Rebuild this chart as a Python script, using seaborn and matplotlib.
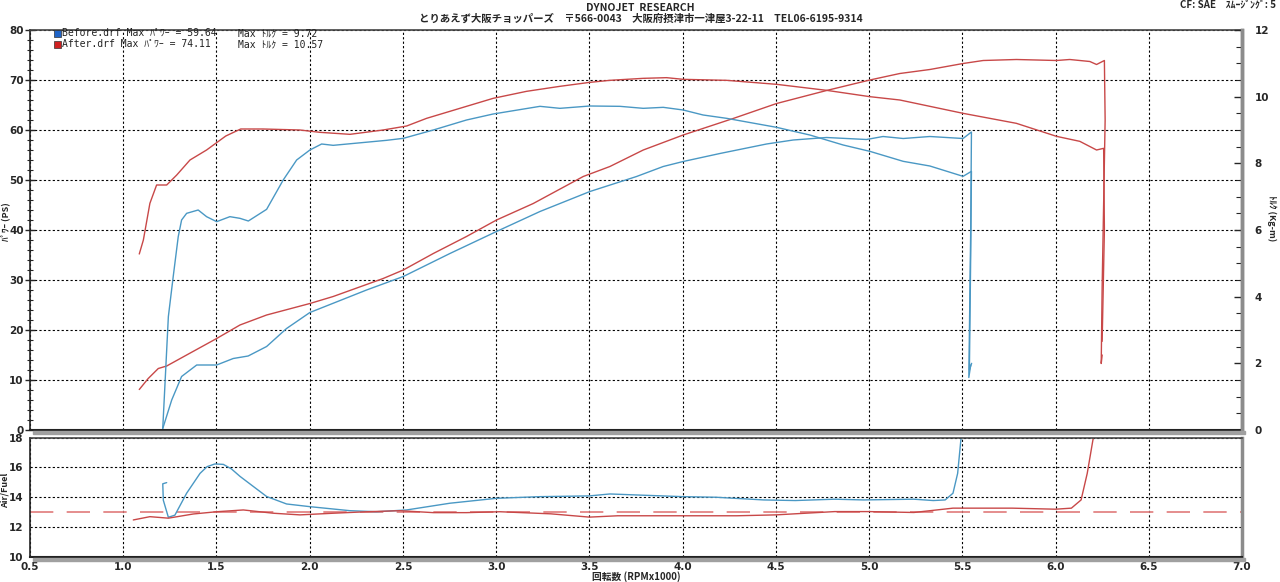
import numpy as np
import pandas as pd
import matplotlib
matplotlib.use("Agg")
import matplotlib.pyplot as plt
import seaborn as sns
from matplotlib.ticker import MultipleLocator, FormatStrFormatter
from matplotlib.patches import Rectangle

# ---------------- data ----------------
before_pwr_rpm = [1.212, 1.260, 1.313, 1.394, 1.501, 1.590, 1.670, 1.769, 1.876, 2.001, 2.305, 2.502,
                  2.752, 3.002, 3.235, 3.503, 3.753, 3.896, 4.003, 4.200, 4.450, 4.593, 4.772, 4.986,
                  5.075, 5.183, 5.326, 5.504, 5.549, 5.545, 5.535, 5.545]
before_pwr = [0.3, 6.0, 10.7, 13.0, 13.0, 14.3, 14.8, 16.7, 20.3, 23.5, 28.0, 30.7,
              35.3, 39.7, 43.7, 47.7, 50.7, 52.7, 53.7, 55.3, 57.2, 58.0, 58.5, 58.1,
              58.7, 58.3, 58.7, 58.3, 59.6, 40.0, 10.5, 13.0]

before_trq_rpm = [1.212, 1.242, 1.268, 1.295, 1.313, 1.340, 1.402, 1.447, 1.501, 1.572, 1.626, 1.671,
                  1.769, 1.858, 1.930, 2.001, 2.064, 2.126, 2.412, 2.502, 2.663, 2.841, 2.984, 3.235,
                  3.342, 3.503, 3.664, 3.789, 3.896, 4.003, 4.110, 4.236, 4.504, 4.682, 4.861, 5.004,
                  5.183, 5.326, 5.504, 5.549, 5.545, 5.538, 5.550]
before_trq = [0.05, 3.40, 4.60, 5.80, 6.30, 6.50, 6.60, 6.40, 6.25, 6.40, 6.35, 6.27,
              6.62, 7.50, 8.10, 8.40, 8.58, 8.54, 8.69, 8.75, 9.00, 9.30, 9.48, 9.71,
              9.65, 9.72, 9.71, 9.65, 9.68, 9.60, 9.45, 9.35, 9.08, 8.85, 8.55, 8.36,
              8.06, 7.92, 7.61, 7.76, 5.25, 1.80, 2.00]

after_pwr_rpm = [1.086, 1.134, 1.188, 1.233, 1.340, 1.501, 1.626, 1.769, 2.001, 2.126, 2.394, 2.502,
                 2.663, 2.841, 3.002, 3.199, 3.467, 3.610, 3.789, 4.003, 4.271, 4.504, 4.772, 5.004,
                 5.165, 5.326, 5.504, 5.612, 5.790, 6.005, 6.076, 6.184, 6.220, 6.262, 6.266, 6.250,
                 6.245, 6.250]
after_pwr = [8.1, 10.3, 12.3, 12.8, 15.0, 18.3, 21.0, 23.0, 25.3, 26.7, 30.3, 32.0,
             35.3, 38.7, 42.0, 45.3, 50.7, 52.7, 56.0, 59.0, 62.3, 65.3, 67.9, 70.0,
             71.3, 72.1, 73.3, 73.9, 74.1, 73.9, 74.1, 73.7, 73.1, 73.9, 62.0, 28.7,
             13.3, 15.0]

after_trq_rpm = [1.086, 1.108, 1.143, 1.179, 1.233, 1.287, 1.358, 1.447, 1.550, 1.630, 1.750, 1.948,
                 2.055, 2.216, 2.394, 2.520, 2.627, 2.841, 2.984, 3.163, 3.342, 3.503, 3.610, 3.789,
                 3.914, 4.003, 4.236, 4.504, 4.772, 5.004, 5.165, 5.326, 5.504, 5.790, 6.005, 6.130,
                 6.220, 6.258, 6.262, 6.250]
after_trq = [5.28, 5.70, 6.80, 7.35, 7.35, 7.65, 8.10, 8.40, 8.82, 9.03, 9.03, 9.00,
             8.93, 8.87, 9.00, 9.12, 9.35, 9.71, 9.95, 10.16, 10.31, 10.43, 10.49, 10.55,
             10.57, 10.52, 10.49, 10.37, 10.19, 10.00, 9.90, 9.71, 9.50, 9.20, 8.81, 8.66,
             8.40, 8.45, 6.00, 2.66]

before_afr_rpm = [1.233, 1.212, 1.215, 1.242, 1.277, 1.340, 1.412, 1.450, 1.492, 1.537, 1.580, 1.626,
                  1.700, 1.769, 1.876, 2.001, 2.216, 2.359, 2.520, 2.752, 3.002, 3.235, 3.500, 3.610,
                  3.737, 4.000, 4.180, 4.435, 4.604, 4.816, 4.970, 5.240, 5.344, 5.408, 5.450, 5.475,
                  5.492, 5.510]
before_afr = [14.98, 14.90, 13.80, 12.66, 12.80, 14.27, 15.60, 16.05, 16.23, 16.20, 15.90, 15.40,
              14.70, 14.05, 13.55, 13.37, 13.10, 13.03, 13.15, 13.60, 13.93, 14.04, 14.09, 14.22,
              14.16, 14.04, 14.00, 13.82, 13.78, 13.87, 13.82, 13.87, 13.78, 13.82, 14.27, 15.60,
              17.80, 19.00]

after_afr_rpm = [1.054, 1.143, 1.242, 1.376, 1.501, 1.644, 1.805, 1.948, 2.126, 2.305, 2.484, 2.663,
                 2.841, 3.020, 3.293, 3.500, 3.652, 4.000, 4.290, 4.500, 4.816, 5.000, 5.240, 5.450,
                 5.767, 6.000, 6.085, 6.137, 6.170, 6.200, 6.220]
after_afr = [12.48, 12.70, 12.60, 12.88, 13.03, 13.15, 12.93, 12.82, 12.93, 13.03, 13.10, 12.97,
             12.97, 13.03, 12.89, 12.67, 12.76, 12.76, 12.76, 12.82, 13.04, 13.04, 12.98, 13.27,
             13.27, 13.20, 13.27, 13.82, 15.60, 17.80, 19.00]

target_rpm = [0.5, 7.0]
target_afr = [13.0, 13.0]

x_ticks = ["0.5", "1.0", "1.5", "2.0", "2.5", "3.0", "3.5", "4.0", "4.5", "5.0", "5.5", "6.0", "6.5", "7.0"]

# ---------------- styling ----------------
sns.set_theme(style="white")
plt.rcParams["font.family"] = ["DejaVu Sans", "Noto Sans CJK JP"]
JP = ["Noto Sans CJK JP", "DejaVu Sans"]
MONO = ["DejaVu Sans Mono", "Noto Sans CJK JP"]

BLUE = "#4a98c4"
RED = "#c84848"
W, H = 1280, 582

fig = plt.figure(figsize=(12.8, 5.82), dpi=100)
fig.patch.set_facecolor("white")


def fx(px):
    return px / W


def fy(py):
    return 1 - py / H


# axes geometry (pixels)
L, R = 30, 1242
top_t, top_b = 30, 430
bot_t, bot_b = 437.5, 557

ax = fig.add_axes([fx(L), fy(top_b), fx(R - L), (top_b - top_t) / H])
ax2 = ax.twinx()
axb = fig.add_axes([fx(L), fy(bot_b), fx(R - L), (bot_b - bot_t) / H])

lw = 1.0
kw = dict(sort=False, estimator=None, linewidth=lw, legend=False)

sns.lineplot(x=before_pwr_rpm, y=before_pwr, ax=ax, color=BLUE, **kw)
sns.lineplot(x=after_pwr_rpm, y=after_pwr, ax=ax, color=RED, **kw)
sns.lineplot(x=before_trq_rpm, y=before_trq, ax=ax2, color=BLUE, **kw)
sns.lineplot(x=after_trq_rpm, y=after_trq, ax=ax2, color=RED, **kw)

sns.lineplot(x=target_rpm, y=target_afr, ax=axb, color="#e07a7a", sort=False, estimator=None,
             linewidth=1.2, legend=False)
axb.lines[-1].set_dashes([14, 8])
sns.lineplot(x=before_afr_rpm, y=before_afr, ax=axb, color=BLUE, **kw)
sns.lineplot(x=after_afr_rpm, y=after_afr, ax=axb, color=RED, **kw)

# limits
for a in (ax, ax2, axb):
    a.set_xlim(0.5, 7.0)
ax.set_ylim(0, 80)
ax2.set_ylim(0, 12)
axb.set_ylim(10, 18)

grid_kw = dict(color="black", linestyle=(0, (2, 2)), linewidth=0.8)
for a in (ax, axb):
    a.xaxis.set_major_locator(MultipleLocator(0.5))
    a.xaxis.set_minor_locator(MultipleLocator(0.1))
    a.grid(True, which="major", **grid_kw)
    a.set_axisbelow(True)
    a.set_xlabel("")
    a.set_ylabel("")
ax2.set_ylabel("")
ax2.grid(False)

ax.yaxis.set_major_locator(MultipleLocator(10))
ax.yaxis.set_minor_locator(MultipleLocator(2))
ax2.yaxis.set_major_locator(MultipleLocator(2))
ax2.yaxis.set_minor_locator(MultipleLocator(0.5))
axb.yaxis.set_major_locator(MultipleLocator(2))
axb.yaxis.set_minor_locator(MultipleLocator(0.5))

ax.tick_params(axis="x", which="both", length=0, labelbottom=False)
ax.tick_params(axis="y", which="major", direction="inout", length=7, width=1, labelsize=7.5, pad=1)
ax.tick_params(axis="y", which="minor", direction="inout", length=5, width=0.8)
ax2.tick_params(axis="y", which="major", direction="in", length=6, width=1, labelsize=7.5, pad=9,
                right=True, labelright=True)
ax2.tick_params(axis="y", which="minor", direction="in", length=4, width=0.8, right=True)
axb.tick_params(axis="y", which="major", direction="inout", length=7, width=1, labelsize=7.5, pad=1)
axb.tick_params(axis="y", which="minor", direction="inout", length=5, width=0.8)
axb.tick_params(axis="x", which="major", direction="inout", length=7, width=1, labelsize=7.5, pad=0)
axb.tick_params(axis="x", which="minor", direction="in", length=4, width=0.8)

ax.yaxis.set_major_formatter(FormatStrFormatter("%d"))
ax2.yaxis.set_major_formatter(FormatStrFormatter("%d"))
axb.yaxis.set_major_formatter(FormatStrFormatter("%d"))
axb.set_xticks(np.arange(0.5, 7.01, 0.5))
axb.set_xticklabels(x_ticks)
for a in (ax, ax2, axb):
    for lab in a.get_xticklabels() + a.get_yticklabels():
        lab.set_fontweight("bold")

# frames: dark top/left, grey shadowed right/bottom
for a in (ax, axb):
    a.spines["left"].set_color("#222222")
    a.spines["top"].set_color("#444444")
    a.spines["left"].set_linewidth(1.2)
    a.spines["top"].set_linewidth(1.2)
    a.spines["right"].set_color("#8c8c8c")
    a.spines["right"].set_linewidth(2.5)
    a.spines["bottom"].set_color("#222222")
    a.spines["bottom"].set_linewidth(1.5)
for s in ("left", "top", "bottom"):
    ax2.spines[s].set_visible(False)
ax2.spines["right"].set_color("#8c8c8c")
ax2.spines["right"].set_linewidth(2.5)

# grey shadow under the panels
fig.patches.append(Rectangle((fx(L + 3), fy(top_b + 4)), fx(R - L), 3 / H, transform=fig.transFigure,
                             color="#a0a0a0", zorder=0))
fig.patches.append(Rectangle((fx(L + 3), fy(bot_b + 4)), fx(R - L), 3 / H, transform=fig.transFigure,
                             color="#a0a0a0", zorder=0))

# ---------------- texts ----------------
fig.text(fx(640), fy(8), "DYNOJET  RESEARCH", ha="center", va="center", fontsize=7.5,
         fontweight="bold", family=JP)
fig.text(fx(641), fy(19), "とりあえず大阪チョッパーズ　〒566-0043　大阪府摂津市一津屋3-22-11　TEL06-6195-9314",
         ha="center", va="center", fontsize=7.5, fontweight="bold", family=JP)
fig.text(fx(1276), fy(5), "CF: SAE　ｽﾑｰｼﾞﾝｸﾞ: 5", ha="right", va="center", fontsize=7,
         fontweight="bold", family=JP)

fig.text(fx(5), fy(222), "ﾊﾟﾜｰ (PS)", rotation=90, ha="center", va="center", fontsize=6.5,
         fontweight="bold", family=JP)
fig.text(fx(1272), fy(218), "ﾄﾙｸ (Kg-m)", rotation=-90, ha="center", va="center", fontsize=6.5,
         fontweight="bold", family=JP)
fig.text(fx(5), fy(490), "Air/Fuel", rotation=90, ha="center", va="center", fontsize=6.5,
         fontweight="bold", family=JP)
fig.text(fx(636), fy(577), "回転数 (RPMx1000)", ha="center", va="center", fontsize=7,
         fontweight="bold", family=JP)

# legend block
leg_rows = [
    ("#1f64c8", "Before.drf Max ﾊﾟﾜｰ = 59.64", "Max ﾄﾙｸ = 9.72", 33),
    ("#d02020", "After.drf Max ﾊﾟﾜｰ = 74.11", "Max ﾄﾙｸ = 10.57", 44),
]
for sq, t1, t2, yy in leg_rows:
    fig.patches.append(Rectangle((fx(54), fy(yy + 3.5)), 7 / W, 7 / H, transform=fig.transFigure,
                                 facecolor=sq, edgecolor="#333333", linewidth=0.5, zorder=5))
    fig.text(fx(62), fy(yy), t1, ha="left", va="center", fontsize=7, family=MONO, color="#222222")
    fig.text(fx(238), fy(yy), t2, ha="left", va="center", fontsize=7, family=MONO, color="#222222")

fig.savefig("out.png", dpi=100, facecolor="white")
